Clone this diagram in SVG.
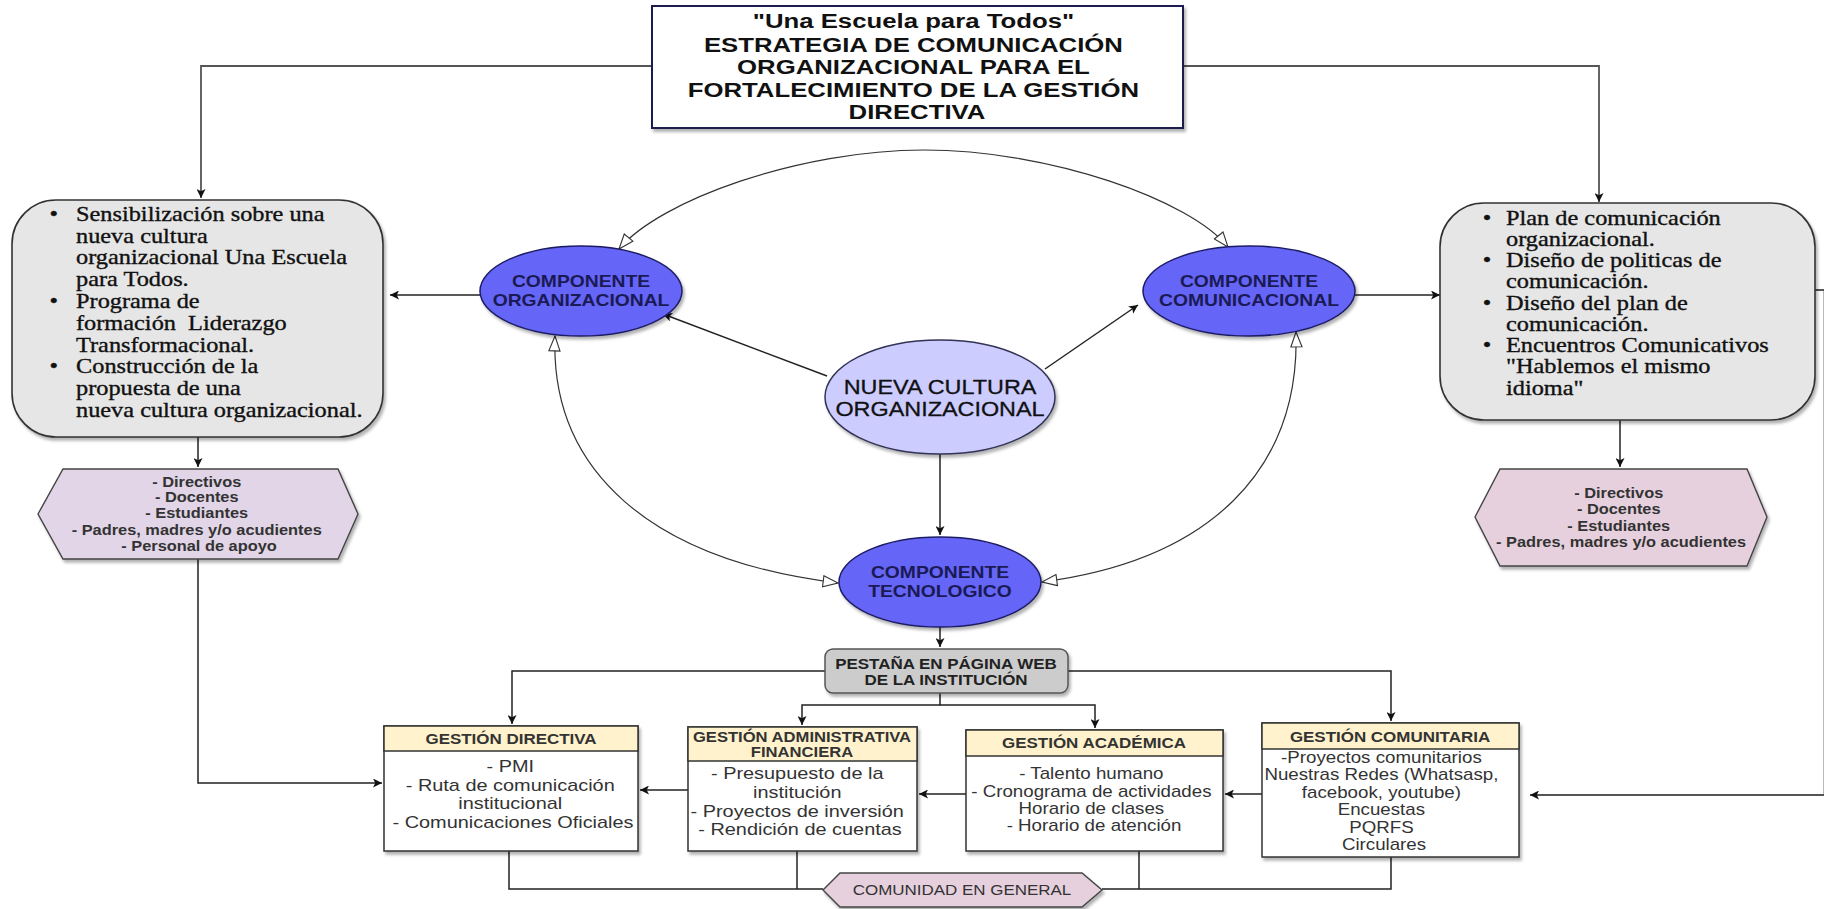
<svg xmlns="http://www.w3.org/2000/svg" width="1824" height="909" viewBox="0 0 1824 909">
  <defs>
    <filter id="shadow" x="-10%" y="-10%" width="130%" height="130%">
      <feDropShadow dx="2" dy="3" stdDeviation="1.5" flood-color="#000" flood-opacity="0.3"/>
    </filter>
    <marker id="arrow" viewBox="0 0 10 10" refX="10" refY="5" markerWidth="9" markerHeight="9" markerUnits="userSpaceOnUse" orient="auto">
      <path d="M0,0 L10,5 L0,10 L2.5,5 z" fill="#111"/>
    </marker>
    <marker id="hollow" viewBox="0 0 18 14" refX="17" refY="7" markerWidth="17" markerHeight="13" markerUnits="userSpaceOnUse" orient="auto-start-reverse">
      <path d="M1,1 L17,7 L1,13 z" fill="#fff" stroke="#333" stroke-width="1.2"/>
    </marker>
    <style>
      .line { fill: none; stroke: #222; stroke-width: 1.5; }
      .gline { fill: none; stroke: #555; stroke-width: 1.8; }
      .arc { fill: none; stroke: #333; stroke-width: 1.2; }
      .arr { marker-end: url(#arrow); }
      .both { marker-start: url(#hollow); marker-end: url(#hollow); }
      .graybox { fill: #e6e6e6; stroke: #333; stroke-width: 1.6; filter: url(#shadow); }
      .comp { fill: #6565f7; stroke: #1e1e66; stroke-width: 1.5; filter: url(#shadow); }
      .nueva { fill: #ccccff; stroke: #333355; stroke-width: 1.5; filter: url(#shadow); }
      .hex1 { fill: #e1d5e7; stroke: #444; stroke-width: 1.4; filter: url(#shadow); }
      .hex2 { fill: #e6d0de; stroke: #444; stroke-width: 1.4; filter: url(#shadow); }
      .head { fill: #fff2cc; stroke: #333; stroke-width: 1.5; }
      .body { fill: #fff; stroke: #333; stroke-width: 1.5; }
      .pest { fill: #cccccc; stroke: #555; stroke-width: 1.5; filter: url(#shadow); }
      .t-title { font-family: "Liberation Sans", Arial, sans-serif; font-weight: bold; font-size: 20.5px; fill: #111; }
      .t-serif { font-family: "Liberation Serif", "Times New Roman", serif; font-size: 20.8px; fill: #111; stroke: #111; stroke-width: 0.35; }
      .t-comp { font-family: "Liberation Sans", Arial, sans-serif; font-weight: bold; font-size: 16.5px; fill: #1a1a55; }
      .t-nueva { font-family: "Liberation Sans", Arial, sans-serif; font-size: 20px; fill: #111; stroke: #111; stroke-width: 0.3; }
      .t-hex { font-family: "Liberation Sans", Arial, sans-serif; font-weight: bold; font-size: 14px; fill: #333; }
      .t-pest { font-family: "Liberation Sans", Arial, sans-serif; font-weight: bold; font-size: 14.5px; fill: #222; }
      .t-head { font-family: "Liberation Sans", Arial, sans-serif; font-weight: bold; font-size: 14.5px; fill: #333; }
      .t-body { font-family: "Liberation Sans", Arial, sans-serif; font-size: 17px; fill: #333; }
      .t-body2 { font-family: "Liberation Sans", Arial, sans-serif; font-size: 16px; fill: #333; }
      .t-com { font-family: "Liberation Sans", Arial, sans-serif; font-size: 14.5px; fill: #333; }
    </style>
  </defs>

  <rect width="1824" height="909" fill="#fff"/>

  <!-- connectors -->
  <g id="connectors">
    <path class="gline arr" d="M652,66 H201 V198"/>
    <path class="gline arr" d="M1184,66 H1599 V202"/>
    <path class="line arr" d="M198,437 V467"/>
    <path class="line arr" d="M1620,420 V467"/>
    <path class="line arr" d="M198,559 V783 H382"/>
    <path class="line arr" d="M480,295 H390"/>
    <path class="line arr" d="M1355,295 H1440"/>
    <!-- loop that runs along the right border back to Gestión Comunitaria -->
    <path class="gline arr" d="M1815,290 H1824.5 V795 H1530"/>
    <path class="line arr" d="M827,376 L663,314"/>
    <path class="line arr" d="M1045,369 L1138,305"/>
    <path class="line arr" d="M940,454 V535"/>
    <path class="line arr" d="M940,627 V647"/>
    <path class="line arr" d="M825,671 H512 V724"/>
    <path class="line arr" d="M1068,671 H1391 V721"/>
    <path class="line arr" d="M940,693 V705 H802 V725"/>
    <path class="line arr" d="M940,705 H1095 V728"/>
    <path class="line arr" d="M688,790 H640"/>
    <path class="line arr" d="M966,794 H919"/>
    <path class="line arr" d="M1262,794 H1225"/>
    <path class="line" d="M509,851 V889 H823"/>
    <path class="line" d="M797,851 V889"/>
    <path class="line" d="M1102,889 H1391 V857"/>
    <path class="line" d="M1139,851 V889"/>
    <path class="arc both" d="M619,249 C660,200 800,150 924,150 C1050,150 1190,200 1228,247"/>
    <path class="arc both" d="M555,336 C550,470 650,560 838,583"/>
    <path class="arc both" d="M1296,332 C1300,470 1210,560 1042,582"/>
  </g>

  <!-- title -->
  <g id="title">
    <rect x="652" y="6" width="531" height="122" fill="#fff" stroke="#1c1c50" stroke-width="2" filter="url(#shadow)"/>
    <g transform="translate(917,0) scale(1.256,1)">
      <text class="t-title" text-anchor="middle">
        <tspan x="0" y="28">"Una Escuela para Todos"</tspan>
        <tspan x="0" y="52">ESTRATEGIA DE COMUNICACIÓN</tspan>
        <tspan x="0" y="74.5">ORGANIZACIONAL PARA EL</tspan>
        <tspan x="0" y="97">FORTALECIMIENTO DE LA GESTIÓN</tspan>
        <tspan x="0" y="119">DIRECTIVA</tspan>
      </text>
    </g>
  </g>

  <!-- left actions box -->
  <g id="acciones-organizacional">
    <rect class="graybox" x="12" y="200" width="371" height="237" rx="44" ry="44"/>
    <g transform="translate(76,0) scale(1.17,1)">
      <text class="t-serif">
        <tspan x="-16.5" y="221" text-anchor="middle">•</tspan>
        <tspan x="0" y="221">Sensibilización sobre una</tspan>
        <tspan x="0" y="243">nueva cultura</tspan>
        <tspan x="0" y="264">organizacional Una Escuela</tspan>
        <tspan x="0" y="286">para Todos.</tspan>
        <tspan x="-16.5" y="308" text-anchor="middle">•</tspan>
        <tspan x="0" y="308">Programa de</tspan>
        <tspan x="0" y="330" xml:space="preserve">formación  Liderazgo</tspan>
        <tspan x="0" y="352">Transformacional.</tspan>
        <tspan x="-16.5" y="373" text-anchor="middle">•</tspan>
        <tspan x="0" y="373">Construcción de la</tspan>
        <tspan x="0" y="395">propuesta de una</tspan>
        <tspan x="0" y="417">nueva cultura organizacional.</tspan>
      </text>
    </g>
  </g>

  <!-- right actions box -->
  <g id="acciones-comunicacional">
    <rect class="graybox" x="1440" y="203" width="375" height="217" rx="44" ry="44"/>
    <g transform="translate(1506,0) scale(1.17,1)">
      <text class="t-serif">
        <tspan x="-13.7" y="225" text-anchor="middle">•</tspan>
        <tspan x="0" y="225">Plan de comunicación</tspan>
        <tspan x="0" y="246">organizacional.</tspan>
        <tspan x="-13.7" y="267" text-anchor="middle">•</tspan>
        <tspan x="0" y="267">Diseño de politicas de</tspan>
        <tspan x="0" y="288">comunicación.</tspan>
        <tspan x="-13.7" y="310" text-anchor="middle">•</tspan>
        <tspan x="0" y="310">Diseño del plan de</tspan>
        <tspan x="0" y="331">comunicación.</tspan>
        <tspan x="-13.7" y="352" text-anchor="middle">•</tspan>
        <tspan x="0" y="352">Encuentros Comunicativos</tspan>
        <tspan x="0" y="373">"Hablemos el mismo</tspan>
        <tspan x="0" y="395">idioma"</tspan>
      </text>
    </g>
  </g>

  <!-- audience hexagons -->
  <g id="publico-organizacional">
    <polygon class="hex1" points="38,514 63,469 338,469 358,514 338,559 63,559"/>
    <g transform="translate(199,0) scale(1.17,1)">
      <text class="t-hex" text-anchor="middle">
        <tspan x="0" y="487">- Directivos</tspan>
        <tspan x="0" y="502">- Docentes</tspan>
        <tspan x="0" y="518">- Estudiantes</tspan>
        <tspan x="0" y="535">- Padres, madres y/o acudientes</tspan>
        <tspan x="0" y="551">- Personal de apoyo</tspan>
      </text>
    </g>
  </g>
  <g id="publico-comunicacional">
    <polygon class="hex2" points="1475,517 1500,469 1747,469 1767,517 1747,566 1500,566"/>
    <g transform="translate(1621,0) scale(1.17,1)">
      <text class="t-hex" text-anchor="middle">
        <tspan x="0" y="498">- Directivos</tspan>
        <tspan x="0" y="514">- Docentes</tspan>
        <tspan x="0" y="531">- Estudiantes</tspan>
        <tspan x="0" y="547">- Padres, madres y/o acudientes</tspan>
      </text>
    </g>
  </g>

  <!-- components -->
  <g id="componente-organizacional">
    <ellipse class="comp" cx="581" cy="291" rx="101" ry="45"/>
    <g transform="translate(581,0) scale(1.17,1)">
      <text class="t-comp" text-anchor="middle"><tspan x="0" y="287">COMPONENTE</tspan><tspan x="0" y="306">ORGANIZACIONAL</tspan></text>
    </g>
  </g>
  <g id="componente-comunicacional">
    <ellipse class="comp" cx="1249" cy="291" rx="106" ry="45"/>
    <g transform="translate(1249,0) scale(1.17,1)">
      <text class="t-comp" text-anchor="middle"><tspan x="0" y="287">COMPONENTE</tspan><tspan x="0" y="306">COMUNICACIONAL</tspan></text>
    </g>
  </g>
  <g id="nueva-cultura">
    <ellipse class="nueva" cx="940" cy="397" rx="115" ry="57"/>
    <g transform="translate(940,0) scale(1.17,1)">
      <text class="t-nueva" text-anchor="middle"><tspan x="0" y="394">NUEVA CULTURA</tspan><tspan x="0" y="416">ORGANIZACIONAL</tspan></text>
    </g>
  </g>
  <g id="componente-tecnologico">
    <ellipse class="comp" cx="940" cy="582" rx="101" ry="45"/>
    <g transform="translate(940,0) scale(1.17,1)">
      <text class="t-comp" text-anchor="middle"><tspan x="0" y="578">COMPONENTE</tspan><tspan x="0" y="597">TECNOLOGICO</tspan></text>
    </g>
  </g>

  <!-- web tab -->
  <g id="pestana-web">
    <rect class="pest" x="825" y="649" width="243" height="44" rx="8" ry="8"/>
    <g transform="translate(946,0) scale(1.17,1)">
      <text class="t-pest" text-anchor="middle"><tspan x="0" y="669">PESTAÑA EN PÁGINA WEB</tspan><tspan x="0" y="685">DE LA INSTITUCIÓN</tspan></text>
    </g>
  </g>

  <!-- management areas -->
  <g id="gestion-directiva">
    <rect class="body" x="384" y="726" width="254" height="125" filter="url(#shadow)"/>
    <rect class="head" x="384" y="726" width="254" height="25"/>
    <g transform="translate(511,0) scale(1.17,1)">
      <text class="t-head" text-anchor="middle"><tspan x="0" y="744">GESTIÓN DIRECTIVA</tspan></text>
    </g>
    <g transform="translate(513,0) scale(1.17,1)">
      <text class="t-body" text-anchor="middle">
        <tspan x="0" y="772">- PMI</tspan>
        <tspan x="0" y="791">- Ruta de comunicación</tspan>
        <tspan x="0" y="809">institucional</tspan>
        <tspan x="0" y="828">- Comunicaciones Oficiales</tspan>
      </text>
    </g>
  </g>
  <g id="gestion-administrativa">
    <rect class="body" x="688" y="727" width="229" height="124" filter="url(#shadow)"/>
    <rect class="head" x="688" y="727" width="229" height="34"/>
    <g transform="translate(802,0) scale(1.17,1)">
      <text class="t-head" text-anchor="middle" style="font-size:14.2px"><tspan x="0" y="742">GESTIÓN ADMINISTRATIVA</tspan><tspan x="0" y="757">FINANCIERA</tspan></text>
    </g>
    <g transform="translate(800,0) scale(1.17,1)">
      <text class="t-body" text-anchor="middle">
        <tspan x="0" y="779">- Presupuesto de la</tspan>
        <tspan x="0" y="798">institución</tspan>
        <tspan x="0" y="817">- Proyectos de inversión</tspan>
        <tspan x="0" y="835">- Rendición de cuentas</tspan>
      </text>
    </g>
  </g>
  <g id="gestion-academica">
    <rect class="body" x="966" y="730" width="257" height="121" filter="url(#shadow)"/>
    <rect class="head" x="966" y="730" width="257" height="26"/>
    <g transform="translate(1094,0) scale(1.17,1)">
      <text class="t-head" text-anchor="middle"><tspan x="0" y="748">GESTIÓN ACADÉMICA</tspan></text>
      <text class="t-body2" text-anchor="middle">
        <tspan x="0" y="779">- Talento humano</tspan>
        <tspan x="0" y="797">- Cronograma de actividades</tspan>
        <tspan x="0" y="814">Horario de clases</tspan>
        <tspan x="0" y="831">- Horario de atención</tspan>
      </text>
    </g>
  </g>
  <g id="gestion-comunitaria">
    <rect class="body" x="1262" y="723" width="257" height="134" filter="url(#shadow)"/>
    <rect class="head" x="1262" y="723" width="257" height="26"/>
    <g transform="translate(1390,0) scale(1.17,1)">
      <text class="t-head" text-anchor="middle"><tspan x="0" y="742">GESTIÓN COMUNITARIA</tspan></text>
    </g>
    <g transform="translate(1384,0) scale(1.17,1)">
      <text class="t-body2" text-anchor="middle">
        <tspan x="0" y="763">-Proyectos comunitarios</tspan>
        <tspan x="0" y="780">Nuestras Redes (Whatsasp,</tspan>
        <tspan x="0" y="798">facebook, youtube)</tspan>
        <tspan x="0" y="815">Encuestas</tspan>
        <tspan x="0" y="833">PQRFS</tspan>
        <tspan x="0" y="850">Circulares</tspan>
      </text>
    </g>
  </g>

  <!-- community -->
  <g id="comunidad">
    <polygon class="hex2" points="823,890 840,873 1082,873 1102,890 1082,907 840,907"/>
    <g transform="translate(962,0) scale(1.17,1)">
      <text class="t-com" text-anchor="middle"><tspan x="0" y="895">COMUNIDAD EN GENERAL</tspan></text>
    </g>
  </g>
</svg>
